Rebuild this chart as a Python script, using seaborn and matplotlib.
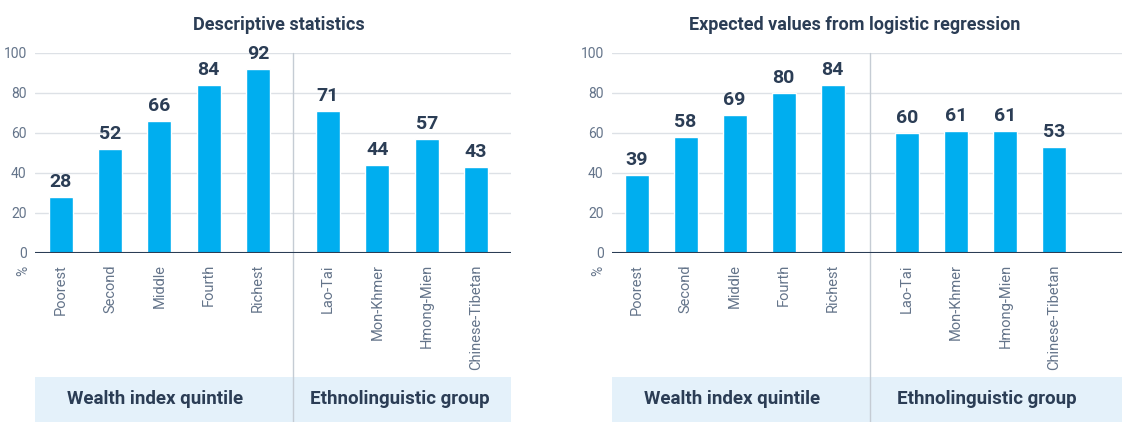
import matplotlib
matplotlib.use("Agg")
import matplotlib.pyplot as plt
import seaborn as sns
import numpy as np
import pandas as pd

# ---- data ----
categories = ["Poorest", "Second", "Middle", "Fourth", "Richest",
              "Lao-Tai", "Mon-Khmer", "Hmong-Mien", "Chinese-Tibetan"]
groups = ["Wealth index quintile"] * 5 + ["Ethnolinguistic group"] * 4
descriptive = [28, 52, 66, 84, 92, 71, 44, 57, 43]
expected = [39, 58, 69, 80, 84, 60, 61, 61, 53]
titles = ["Descriptive statistics", "Expected values from logistic regression"]
group_labels = ["Wealth index quintile", "Ethnolinguistic group"]
yticks = [0, 20, 40, 60, 80, 100]

# ---- style ----
sns.set_style("white")
plt.rcParams["font.family"] = ["Roboto", "DejaVu Sans"]

BAR = "#00AEEF"
NAVY = "#2b3d55"
GRAY_TXT = "#64748a"
GRID = "#dde1e6"
BAND = "#e4f1fa"
DIV = "#c5ccd4"

W, H = 1122, 422
fig = plt.figure(figsize=(W / 100, H / 100), dpi=100)

def px_axes(l, t, r, b):
    return fig.add_axes([l / W, 1 - b / H, (r - l) / W, (b - t) / H])

panels = [
    dict(box=(35, 53, 511, 253), gap=0.42, xlim=(-0.52, 9.13), div=4.71,
         vals=descriptive, title=titles[0], tx=279, gx=(1.91, 6.88), pct=23),
    dict(box=(612, 53, 1122, 253), gap=0.52, xlim=(-0.5, 9.9), div=4.76,
         vals=expected, title=titles[1], tx=855, gx=(1.95, 7.15), pct=598),
]

for p in panels:
    l, t, r, b = p["box"]
    ax = px_axes(l, t, r, b)
    pos = [i + (p["gap"] if g == group_labels[1] else 0) for i, g in enumerate(groups)]
    df = pd.DataFrame({"pos": pos, "val": p["vals"]})
    ax.set_axisbelow(True)
    sns.barplot(data=df, x="pos", y="val", native_scale=True, width=0.49,
                color=BAR, saturation=1, ax=ax, zorder=2)
    ax.set_xlim(*p["xlim"])
    ax.set_ylim(0, 100)
    ax.set_yticks(yticks)
    ax.set_yticklabels([str(v) for v in yticks], fontsize=10, color=GRAY_TXT)
    ax.set_xticks(pos)
    ax.set_xticklabels(categories, rotation=90, fontsize=10.5, color=GRAY_TXT,
                       va="top")
    ax.tick_params(axis="both", length=0)
    ax.tick_params(axis="y", pad=6)
    ax.tick_params(axis="x", pad=8)
    ax.set_xlabel("")
    ax.set_ylabel("")
    ax.yaxis.grid(True, color=GRID, linewidth=1, zorder=0)
    for s in ax.spines.values():
        s.set_visible(False)
    ax.axhline(0, color=NAVY, linewidth=1.5, zorder=3)
    ax.bar_label(ax.containers[0], labels=[str(v) for v in p["vals"]],
                 padding=4, fontsize=14, fontweight="bold", color=NAVY)
    # % sign
    fig.text(p["pct"] / W, 1 - 271 / H, "%", rotation=90, ha="center",
             va="center", fontsize=10, color=GRAY_TXT)
    # band
    band_bot = (b - H) / (b - t)
    band_top = (b - 377) / (b - t)
    ax.add_patch(plt.Rectangle((0, band_bot), 1, band_top - band_bot,
                               transform=ax.transAxes, facecolor=BAND,
                               edgecolor="none", clip_on=False, zorder=0))
    # divider
    trans = ax.get_xaxis_transform()
    ax.plot([p["div"], p["div"]], [1, band_bot], transform=trans, color=DIV,
            linewidth=1, clip_on=False, zorder=1)
    # group labels
    ymid = (band_top + band_bot) / 2
    for gx, gl in zip(p["gx"], group_labels):
        ax.text(gx, ymid, gl, transform=trans, ha="center", va="center",
                fontsize=13.5, fontweight="bold", color=NAVY)
    fig.text(p["tx"] / W, 1 - 25 / H, p["title"], ha="center", va="center",
             fontsize=13, fontweight="bold", color=NAVY)

fig.savefig("out.png", dpi=100)
